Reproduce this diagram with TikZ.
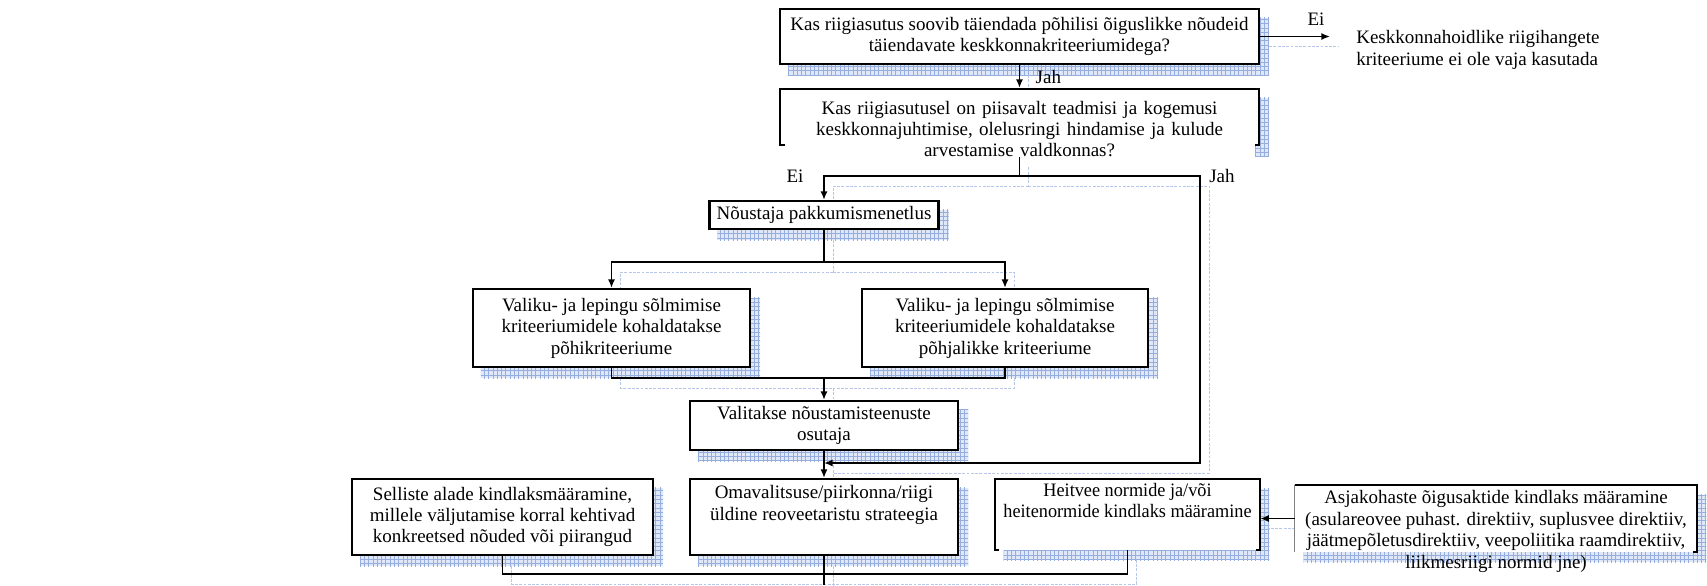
\documentclass[tikz,border=0pt]{standalone}
\usepackage{fontspec}
\setmainfont{Liberation Serif}
\newfontfamily\condfont[FakeStretch=0.96]{Liberation Serif}
\usetikzlibrary{arrows.meta,patterns,backgrounds}

\definecolor{shfill}{RGB}{224,232,247}
\definecolor{shdot}{RGB}{150,174,222}
\definecolor{shline}{RGB}{182,199,234}

\newcommand{\txt}{\fontsize{13.3}{15}\selectfont}

% all connector paths, drawn once as pale shadows and once in black
\newcommand{\connpaths}[1]{%
  \draw[conn,tip,#1] (b1.east) -- (eiend);
  \draw[conn,tip,#1] (b1.south) -- (b2.north);
  \draw[conn,#1] (t2.south) -- (br);
  \draw[conn,tip,#1] (br) -| (n.north);
  \draw[conn,tip,#1] (br) -- (jr) -- (jr |- jend) -- (jend);
  \draw[conn,#1] (n.south) -- (nb);
  \draw[conn,tip,#1] (nb) -| (cl.north);
  \draw[conn,tip,#1] (nb) -| (cr.north);
  \draw[conn,#1] (cl.south) |- (cj);
  \draw[conn,#1] (cr.south) |- (cj);
  \draw[conn,tip,#1] (cj) -- (v.north);
  \draw[conn,tip,#1] (v.south) -- (o.north);
  \draw[conn,tip,#1] (a.west) -- (a.west -| h.east);
  \draw[conn,#1] (s.south) -- (sb) -| (h.south);
  \draw[conn,#1] (o.south) -- (bot);
}

\begin{document}
\begin{tikzpicture}[x=0.7pt,y=-0.7pt,
  box/.style={draw, line width=1.5pt, fill=white, inner sep=0pt, align=center, font=\txt},
  plain/.style={inner sep=0pt, align=center, font=\txt},
  conn/.style={line width=1.2pt},
  tip/.style={-{Latex[length=6pt,width=5pt]}},
  lbl/.style={inner sep=1pt, font=\txt},
  thick border/.style={line width=1.5pt},
  shadowconn/.style={draw=shline, line width=0.6pt, dash pattern=on 2pt off 1pt, arrows=-},
]
\useasboundingbox (0,0) rectangle (1707,585);

% question boxes
\node[box, minimum width=335.3pt, minimum height=38.5pt] (b1) at (1019.5,36.5)
  {Kas riigiasutus soovib täiendada põhilisi õiguslikke nõudeid\\täiendavate keskkonnakriteeriumidega?};
\node[box, minimum width=335.3pt, minimum height=39.2pt] (b2) at (1019.5,117) {};
\node[plain, fill=white, text width=329pt] (t2) at (1019.5,129)
  {Kas riigiasutusel on piisavalt teadmisi ja kogemusi\\keskkonnajuhtimise, olelusringi hindamise ja kulude\\arvestamise valdkonnas?};
\node[plain, anchor=west, align=left] (rt) at (1356,50)
  {Keskkonnahoidlike riigihangete\\kriteeriume ei ole vaja kasutada};

% procedure boxes
\node[box, minimum width=160.3pt, minimum height=19.6pt] (n) at (824,215) {Nõustaja pakkumismenetlus};
\node[box, minimum width=193.9pt, minimum height=54.6pt] (cl) at (611.5,328)
  {Valiku- ja lepingu sõlmimise\\kriteeriumidele kohaldatakse\\põhikriteeriume};
\node[box, minimum width=200.2pt, minimum height=54.6pt] (cr) at (1005,328)
  {Valiku- ja lepingu sõlmimise\\kriteeriumidele kohaldatakse\\põhjalikke kriteeriume};
\node[box, minimum width=187.6pt, minimum height=34.3pt] (v) at (824,425.5)
  {Valitakse nõustamisteenuste\\osutaja};

% bottom row
\node[box, minimum width=210.7pt, minimum height=53.2pt] (s) at (502.5,517)
  {Selliste alade kindlaksmääramine,\\millele väljutamise korral kehtivad\\konkreetsed nõuded või piirangud};
\node[box, minimum width=187.6pt, minimum height=53.2pt] (o) at (824,517)
  {Omavalitsuse/piirkonna/riigi\\üldine reoveetaristu strateegia\\\strut};
\node[plain, fill=white, minimum width=185.5pt, minimum height=49.7pt, font=\txt\condfont] (h) at (1127.5,514.5)
  {Heitvee normide ja/või\\heitenormide kindlaks määramine\\\strut};
\draw[thick border] ([xshift=3pt]h.south west) -- (h.south west) -- (h.north west)
  -- (h.north east) -- (h.south east) -- ([xshift=-3pt]h.south east);
\node[plain, fill=white, minimum width=281.4pt, minimum height=46.9pt] (a) at (1496,518.5) {};
\draw[thick border] (a.north west) -- (a.north east) -- (a.south east) -- ([xshift=-3pt]a.south east);
\draw[line width=0.6pt, gray] (a.north west) -- (a.south west);
\node[plain] (atext) at (1496,531.5)
  {Asjakohaste õigusaktide kindlaks määramine\\(asulareovee puhast. direktiiv, suplusvee direktiiv,\\jäätmepõletusdirektiiv, veepoliitika raamdirektiiv,\\liikmesriigi normid jne)};

% junction points
\coordinate (eiend) at (1330,36.5);
\coordinate (br) at (1019.5,176);
\coordinate (jr) at (1200,176);
\coordinate (jend) at (824,463);
\coordinate (nb) at (824,262);
\coordinate (cj) at (824,378);
\coordinate (sb) at (502.5,574);
\coordinate (bot) at (824,585);

% connectors and their labels
\connpaths{}
\node[lbl] at (1316,19) {Ei};
\node[lbl, anchor=west] at (1034,77) {Jah};
\node[lbl] at (795,176) {Ei};
\node[lbl] at (1222,176) {Jah};

% drop shadows
\begin{scope}[on background layer]
  \foreach \bx in {b1,b2,n,cl,cr,v,s,o,h,a} {
    \fill[shfill] ([shift={(9,10)}]\bx.north west) rectangle ([shift={(9,10)}]\bx.south east);
    \fill[pattern=grid, pattern color=shdot] ([shift={(9,10)}]\bx.north west) rectangle ([shift={(9,10)}]\bx.south east);
  }
  \begin{scope}[transform canvas={shift={(6.3pt,-7pt)}}]
    \connpaths{shadowconn}
  \end{scope}
\end{scope}
\end{tikzpicture}
\end{document}
